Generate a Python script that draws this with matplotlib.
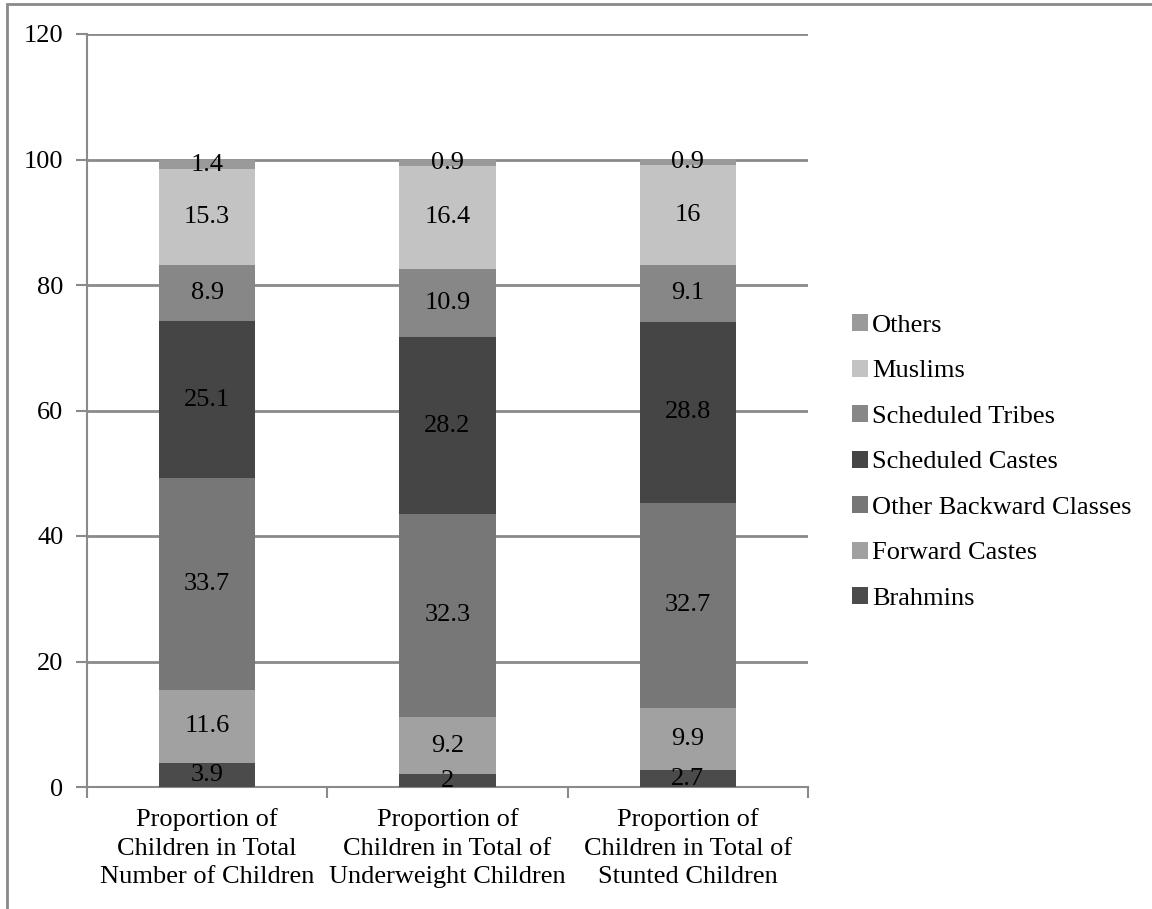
import matplotlib
matplotlib.use("Agg")
import matplotlib.pyplot as plt
from matplotlib.patches import Rectangle
import numpy as np

plt.rcParams['font.family'] = ['Liberation Serif', 'DejaVu Serif']

# Share (%) of each social group in the three child populations
categories = [
    "Proportion of\nChildren in Total\nNumber of Children",
    "Proportion of\nChildren in Total of\nUnderweight Children",
    "Proportion of\nChildren in Total of\nStunted Children",
]
groups = ["Brahmins", "Forward Castes", "Other Backward Classes",
          "Scheduled Castes", "Scheduled Tribes", "Muslims", "Others"]
brahmins = [3.9, 2, 2.7]
forward_castes = [11.6, 9.2, 9.9]
obc = [33.7, 32.3, 32.7]
scheduled_castes = [25.1, 28.2, 28.8]
scheduled_tribes = [8.9, 10.9, 9.1]
muslims = [15.3, 16.4, 16]
others = [1.4, 0.9, 0.9]

series = [brahmins, forward_castes, obc, scheduled_castes,
          scheduled_tribes, muslims, others]
colors = ["#4b4b4b", "#a1a1a1", "#777777", "#454545",
          "#878787", "#c3c3c3", "#9a9a9a"]

W, H = 1152, 909
fig = plt.figure(figsize=(W / 100, H / 100), dpi=100)
ax = fig.add_axes([87 / W, 1 - 787 / H, (808 - 87) / W, (787 - 34) / H])

grid_col = "#8a8a8a"
x = np.arange(len(categories))
bottom = np.zeros(len(categories))
for name, vals, col in zip(groups, series, colors):
    vals = np.array(vals, dtype=float)
    bars = ax.bar(x, vals, 0.4, bottom=bottom, color=col, label=name,
                  zorder=3, linewidth=0)
    for b, v, b0 in zip(bars, vals, bottom):
        ax.text(b.get_x() + b.get_width() / 2, b0 + v / 2, f"{v:g}",
                ha="center", va="center", fontsize=19, color="black",
                zorder=4)
    bottom += vals

ax.set_xlim(-0.5, 2.5)
ax.set_ylim(0, 120)
ax.set_yticks(np.arange(0, 121, 20))
ax.yaxis.grid(True, color=grid_col, linewidth=2, zorder=0)
ax.set_axisbelow(True)

ax.set_xticks(x)
ax.set_xticklabels(categories, fontsize=19, linespacing=1.4)
ax.set_xticks([-0.5, 0.5, 1.5, 2.5], minor=True)
ax.tick_params(axis="x", which="major", length=0, pad=15)
ax.tick_params(axis="x", which="minor", length=8, width=1.5,
               color=grid_col, direction="out")
ax.tick_params(axis="y", labelsize=19, length=8, width=1.5,
               color=grid_col, direction="out", pad=9)

for side in ["top", "right"]:
    ax.spines[side].set_visible(False)
for side in ["left", "bottom"]:
    ax.spines[side].set_color(grid_col)
    ax.spines[side].set_linewidth(1.5)

handles, labels = ax.get_legend_handles_labels()
leg = fig.legend(handles[::-1], labels[::-1], loc="center left",
                 bbox_to_anchor=(852 / W, 1 - 462 / H), frameon=False,
                 fontsize=19, handlelength=0.62, handleheight=0.62,
                 handletextpad=0.15, labelspacing=0.86, borderpad=0,
                 borderaxespad=0)

# outer frame, partly cut by the figure edges
fig.patches.append(Rectangle((7 / W, -0.1), 2, 1.1 - 4 / H,
                             transform=fig.transFigure, fill=False,
                             edgecolor=grid_col, linewidth=2))

# heading sits above the frame; only its descenders reach into view
fig.text(45 / W, 1 + 5 / H,
         "Figure 3: Composition of Children (Total, Underweight and Stunted), by Social Group (%)",
         fontsize=16.5, fontweight="bold", ha="left", va="baseline")

fig.savefig("out.png", dpi=100)
